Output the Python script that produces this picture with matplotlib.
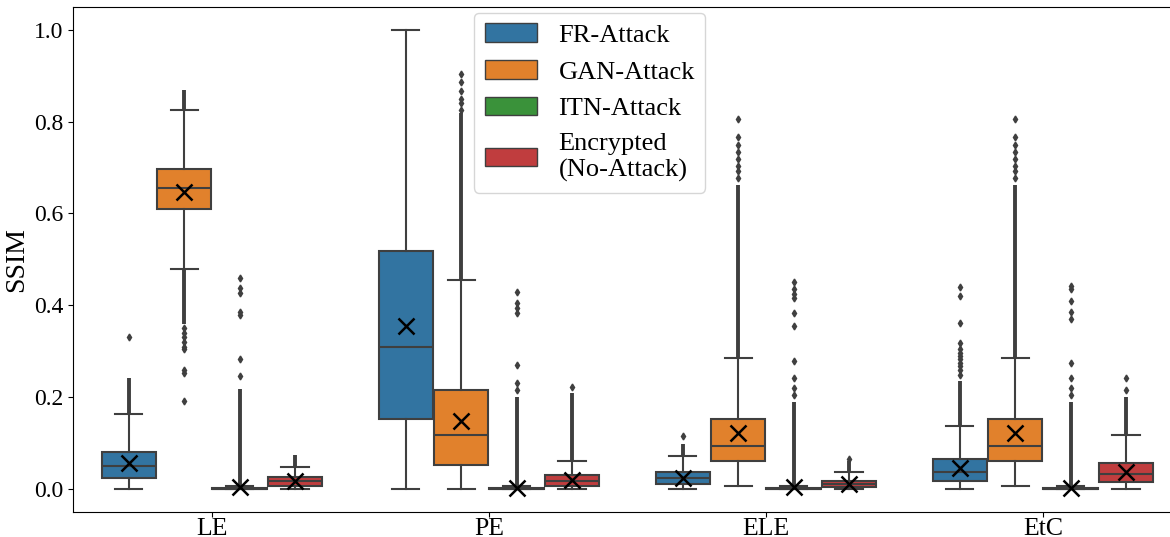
import matplotlib
matplotlib.use("Agg")
import matplotlib.pyplot as plt
from matplotlib.patches import Patch

plt.rcParams['font.family'] = ['Liberation Serif', 'DejaVu Serif']

# Kategorien und Methoden
kategorien = ["LE", "PE", "ELE", "EtC"]
methoden = ["FR-Attack", "GAN-Attack", "ITN-Attack", "Encrypted\n(No-Attack)"]
farben = ["#3274a1", "#e1812c", "#3a923a", "#c03d3e"]

# Boxplot-Kennwerte, je Methode über die Kategorien LE, PE, ELE, EtC
fr_q1 = [0.025, 0.152, 0.011, 0.017]
fr_med = [0.051, 0.310, 0.023, 0.038]
fr_q3 = [0.080, 0.519, 0.036, 0.066]
fr_lo = [0.0, 0.0, 0.0, 0.0]
fr_hi = [0.164, 1.0, 0.071, 0.137]
fr_mean = [0.056, 0.355, 0.025, 0.045]

gan_q1 = [0.610, 0.053, 0.062, 0.062]
gan_med = [0.656, 0.118, 0.094, 0.094]
gan_q3 = [0.697, 0.215, 0.152, 0.152]
gan_lo = [0.478, 0.0, 0.006, 0.006]
gan_hi = [0.826, 0.456, 0.286, 0.286]
gan_mean = [0.647, 0.149, 0.121, 0.121]

itn_q1 = [0.0, 0.0, 0.0, 0.0]
itn_med = [0.001, 0.001, 0.001, 0.001]
itn_q3 = [0.003, 0.003, 0.003, 0.003]
itn_lo = [0.0, 0.0, 0.0, 0.0]
itn_hi = [0.006, 0.006, 0.006, 0.006]
itn_mean = [0.005, 0.002, 0.004, 0.003]

enc_q1 = [0.0075, 0.0075, 0.004, 0.015]
enc_med = [0.017, 0.018, 0.011, 0.032]
enc_q3 = [0.026, 0.030, 0.018, 0.057]
enc_lo = [0.0, 0.0, 0.0, 0.0]
enc_hi = [0.049, 0.060, 0.038, 0.118]
enc_mean = [0.018, 0.019, 0.012, 0.038]

# Dichte Ausreißerbereiche (von, bis) und einzelne Ausreißer
fr_dicht = [[(0.165, 0.242)], [], [(0.072, 0.099)], [(0.138, 0.236)]]
fr_einzeln = [
    [0.331],
    [],
    [0.116],
    [0.248, 0.259, 0.267, 0.274, 0.282, 0.289, 0.297, 0.304, 0.319, 0.362, 0.420, 0.440],
]
gan_dicht = [[(0.827, 0.868), (0.36, 0.478)], [(0.456, 0.819)], [(0.287, 0.662)], [(0.287, 0.662)]]
gan_einzeln = [
    [0.35, 0.34, 0.33, 0.32, 0.31, 0.304, 0.26, 0.252, 0.191],
    [0.826, 0.841, 0.849, 0.867, 0.886, 0.904],
    [0.677, 0.692, 0.703, 0.718, 0.733, 0.748, 0.767, 0.805],
    [0.677, 0.692, 0.703, 0.718, 0.733, 0.748, 0.767, 0.805],
]
itn_dicht = [[(0.006, 0.218)], [(0.006, 0.20)], [(0.006, 0.19)], [(0.006, 0.19)]]
itn_einzeln = [
    [0.247, 0.282, 0.379, 0.385, 0.427, 0.438, 0.459],
    [0.215, 0.23, 0.271, 0.383, 0.394, 0.405, 0.430],
    [0.205, 0.22, 0.241, 0.278, 0.356, 0.383, 0.416, 0.424, 0.435, 0.45],
    [0.205, 0.22, 0.241, 0.275, 0.371, 0.386, 0.409, 0.435, 0.442],
]
enc_dicht = [[(0.050, 0.073)], [(0.061, 0.21)], [(0.04, 0.06)], [(0.119, 0.20)]]
enc_einzeln = [[], [0.222], [0.066], [0.215, 0.241]]

alle = [
    (fr_q1, fr_med, fr_q3, fr_lo, fr_hi, fr_mean, fr_dicht, fr_einzeln),
    (gan_q1, gan_med, gan_q3, gan_lo, gan_hi, gan_mean, gan_dicht, gan_einzeln),
    (itn_q1, itn_med, itn_q3, itn_lo, itn_hi, itn_mean, itn_dicht, itn_einzeln),
    (enc_q1, enc_med, enc_q3, enc_lo, enc_hi, enc_mean, enc_dicht, enc_einzeln),
]

grau = "#3f3f3f"
breite = 0.8 / len(methoden)
versatz = [-0.3, -0.1, 0.1, 0.3]

fig = plt.figure(figsize=(11.7, 5.37), dpi=100)
ax = fig.add_axes([0.0627, 0.0466, 0.947, 0.9408])

for m, (q1, med, q3, lo, hi, mean, dicht, einzeln) in enumerate(alle):
    stats = []
    pos = []
    for k in range(len(kategorien)):
        stats.append({
            "q1": q1[k], "med": med[k], "q3": q3[k],
            "whislo": lo[k], "whishi": hi[k], "mean": mean[k],
            "fliers": einzeln[k],
        })
        pos.append(k + versatz[m])
        # dichte Ausreißer als durchgehende Säule
        for von, bis in dicht[k]:
            ax.vlines(k + versatz[m], von, bis, color=grau, linewidth=2.8, zorder=2)
    ax.bxp(
        stats, positions=pos, widths=breite * 0.98, patch_artist=True, showmeans=True,
        boxprops=dict(facecolor=farben[m], edgecolor=grau, linewidth=1.5),
        medianprops=dict(color=grau, linewidth=1.5),
        whiskerprops=dict(color=grau, linewidth=1.5),
        capprops=dict(color=grau, linewidth=1.5),
        flierprops=dict(marker="d", markersize=3.5, markerfacecolor=grau, markeredgecolor=grau),
        meanprops=dict(marker="x", markersize=11, markeredgecolor="black", markeredgewidth=1.8),
        manage_ticks=False,
    )

ax.set_xlim(-0.5, 3.5)
ax.set_ylim(-0.05, 1.05)
ax.set_xticks(range(len(kategorien)))
ax.set_xticklabels(kategorien, fontsize=18.5)
ax.tick_params(axis="x", pad=0.5)
ax.set_yticks([0.0, 0.2, 0.4, 0.6, 0.8, 1.0])
ax.set_yticklabels(["0.0", "0.2", "0.4", "0.6", "0.8", "1.0"], fontsize=17)
ax.set_ylabel("SSIM", fontsize=20)

handles = [Patch(facecolor=f, edgecolor=grau, linewidth=1.0) for f in farben]
ax.legend(handles, methoden, loc="upper left", bbox_to_anchor=(0.3616, 0.988),
          borderaxespad=0, fontsize=19)

fig.savefig("out.png", dpi=100)
